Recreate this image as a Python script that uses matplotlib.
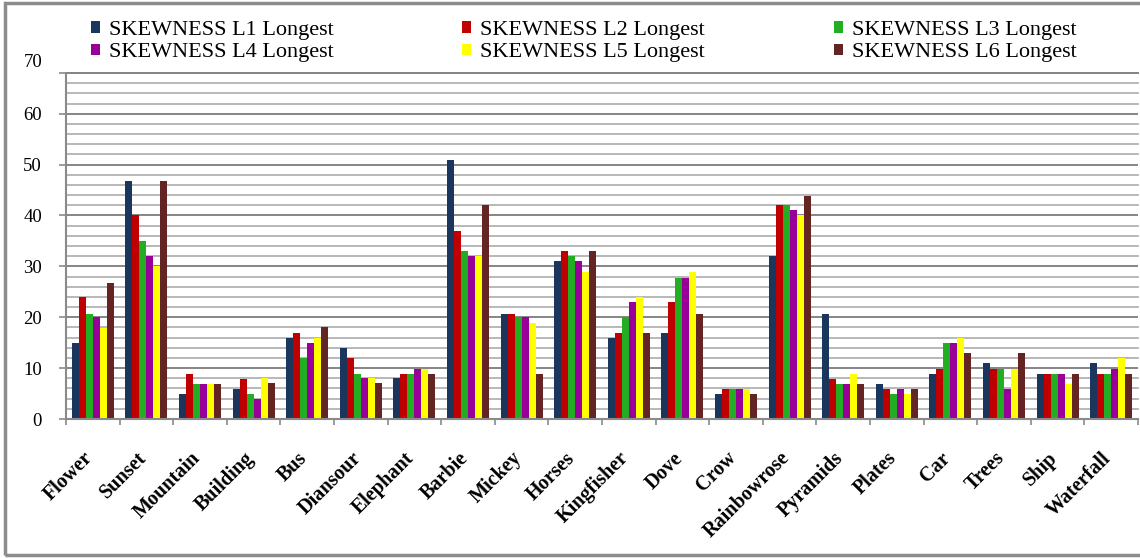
import matplotlib
matplotlib.use("Agg")
import matplotlib.pyplot as plt
from matplotlib.patches import Patch, Rectangle
import numpy as np

categories = ["Flower", "Sunset", "Mountain", "Building", "Bus", "Diansour",
              "Elephant", "Barbie", "Mickey", "Horses", "Kingfisher", "Dove",
              "Crow", "Rainbowrose", "Pyramids", "Plates", "Car", "Trees",
              "Ship", "Waterfall"]

series_names = ["SKEWNESS L1 Longest", "SKEWNESS L2 Longest", "SKEWNESS L3 Longest",
                "SKEWNESS L4 Longest", "SKEWNESS L5 Longest", "SKEWNESS L6 Longest"]

l1 = [15, 46.8, 4.9, 5.9, 16, 14, 8, 50.9, 20.7, 31, 16, 17, 4.9, 32, 20.7, 6.9, 8.9, 11, 8.9, 11]
l2 = [24, 40, 8.9, 7.9, 17, 12, 8.9, 36.9, 20.7, 33, 17, 22.9, 5.9, 42, 7.9, 5.9, 9.9, 9.9, 8.9, 8.9]
l3 = [20.7, 35, 6.9, 4.9, 12, 8.9, 8.9, 33, 20.1, 32, 20.1, 27.8, 5.9, 42, 6.9, 4.9, 15, 9.9, 8.9, 8.9]
l4 = [20.1, 32, 6.9, 4, 15, 8, 9.9, 32, 20.1, 31, 22.9, 27.8, 5.9, 41, 6.9, 5.9, 15, 5.9, 8.9, 9.9]
l5 = [17.9, 30, 6.9, 8, 16, 8, 9.9, 32, 18.9, 28.8, 23.9, 28.8, 5.9, 40, 8.9, 4.9, 16, 9.9, 6.9, 12]
l6 = [26.8, 46.8, 6.9, 7, 18, 7, 8.9, 42, 8.9, 33, 17, 20.7, 4.9, 43.8, 6.9, 5.9, 13, 13, 8.9, 8.9]

series = [l1, l2, l3, l4, l5, l6]
colors = ["#1b365d", "#c00000", "#22ad22", "#990099", "#ffff00", "#632423"]

y_tick_values = [0, 10, 20, 30, 40, 50, 60, 70]
y_top = 68

serif = ["Liberation Serif", "DejaVu Serif"]

W, H = 1140, 558
fig = plt.figure(figsize=(W / 100, H / 100), dpi=100)
ax = fig.add_axes([66 / W, 1 - 419 / H, (1138 - 66) / W, (419 - 73) / H])

x = np.arange(len(categories))
bw = 0.13
for i, (vals, c) in enumerate(zip(series, colors)):
    ax.bar(x + (i - 2.5) * bw, vals, width=bw, color=c, edgecolor="none",
           label=series_names[i], zorder=3)

ax.set_xlim(-0.5, len(categories) - 0.5)
ax.set_ylim(0, y_top)

# horizontal grid: light every 2, darker every 10
for v in np.arange(2, y_top + 1, 2):
    if v % 10 == 0:
        continue
    ax.axhline(v, color="#ababab", lw=1.2, zorder=1, clip_on=False)
for v in y_tick_values[1:]:
    if v <= y_top:
        ax.axhline(v, color="#858585", lw=1.4, zorder=1)
ax.axhline(y_top, color="#858585", lw=1.4, zorder=1, clip_on=False)

for s in ["top", "right"]:
    ax.spines[s].set_visible(False)
for s in ["left", "bottom"]:
    ax.spines[s].set_color("#8a8a8a")
    ax.spines[s].set_linewidth(1.5)
    ax.spines[s].set_zorder(4)

# y ticks: labelled ones inside the range, plus the top edge tick
shown = [v for v in y_tick_values if v <= y_top]
ax.set_yticks(shown + [y_top])
ax.set_yticklabels([str(v) for v in shown] + [""], family=serif, fontsize=13.5)
ax.tick_params(axis="y", length=5, width=1.2, color="#8a8a8a", pad=12.2)
for v in y_tick_values:
    if v > y_top:
        ax.annotate(str(v), xy=(0, v), xycoords=("axes fraction", "data"),
                    xytext=(-17.2, 0), textcoords="offset points",
                    ha="right", va="center", family=serif, fontsize=13.5,
                    annotation_clip=False)

# category labels sit slightly right of the group centre
ax.set_xticks(x + 0.08)
ax.set_xticklabels(categories, rotation=45, ha="right", va="top",
                   family=serif, fontweight="bold", fontsize=14.5)
ax.tick_params(axis="x", which="major", length=0, pad=21)
ax.set_xticks(np.arange(-0.5, len(categories), 1), minor=True)
ax.tick_params(axis="x", which="minor", length=4.3, width=1.2, color="#8a8a8a")

# legend: row-wise order in three columns
handles = [Patch(facecolor=c, edgecolor="none") for c in colors]
order = [0, 3, 1, 4, 2, 5]
leg = fig.legend([handles[k] for k in order], [series_names[k] for k in order],
                 ncol=3, loc="upper left", bbox_to_anchor=(91 / W, 1 - 21 / H),
                 frameon=False, prop={"family": serif, "size": 16},
                 handlelength=0.4, handleheight=0.4, handletextpad=0.4,
                 columnspacing=5.8, labelspacing=0.15, borderaxespad=0,
                 borderpad=0)

# outer chart border
fig.patches.append(Rectangle((5 / W, 3 / H), 1.2, 1 - 6 / H, transform=fig.transFigure,
                             fill=False, edgecolor="#8c8c8c", lw=2.5))

fig.savefig("out.png", dpi=100)
